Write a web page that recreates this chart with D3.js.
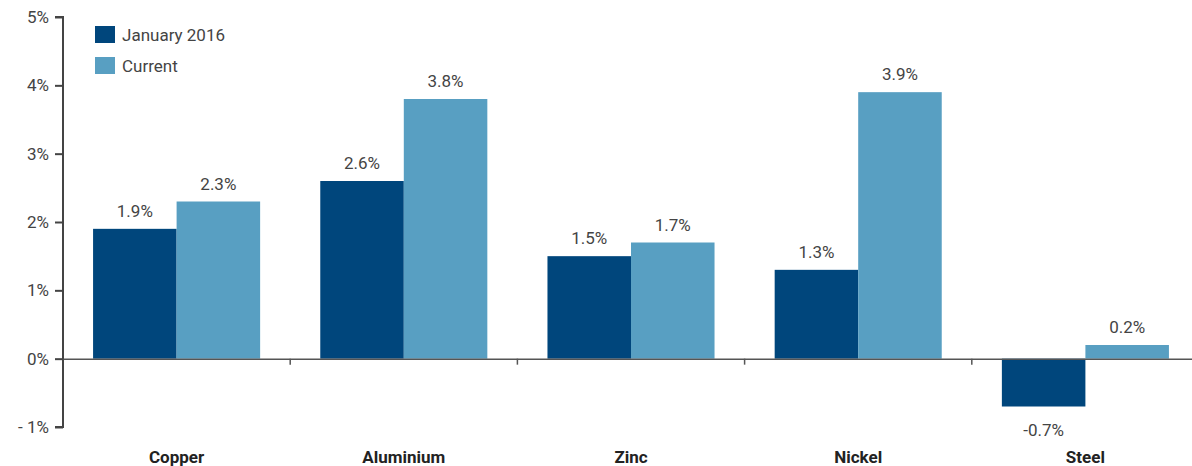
<!DOCTYPE html>
<html><head><meta charset="utf-8">
<script src="https://cdn.jsdelivr.net/npm/d3@7"></script>
<style>
body{margin:0;background:#fff;}
text{font-family:Roboto, "Liberation Sans", sans-serif;}
</style></head>
<body>
<svg id="chart" width="1192" height="466"></svg>
<script>
const categories = ["Copper","Aluminium","Zinc","Nickel","Steel"];
const seriesNames = ["January 2016","Current"];
const jan2016 = [1.9, 2.6, 1.5, 1.3, -0.7];
const current = [2.3, 3.8, 1.7, 3.9, 0.2];
const yTicks = [-1,0,1,2,3,4,5];
const colors = ["#00467c","#589fc2"];

const svg = d3.select("#chart");
const x0 = 63, xEnd = 1199;
const x = d3.scaleBand().domain(categories).range([x0, xEnd]).paddingInner(0).paddingOuter(0);
const inner = d3.scaleBand().domain(seriesNames).range([0, x.bandwidth()]).paddingOuter(0.36).paddingInner(0);
const y = d3.scaleLinear().domain([-1,5]).range([427, 17]);

// y axis
const yAxis = d3.axisLeft(y).tickValues(yTicks).tickSize(8).tickPadding(6)
  .tickFormat(d => d < 0 ? "- " + Math.abs(d) + "%" : d + "%");
const gy = svg.append("g").attr("transform", `translate(${x0},0)`).call(yAxis);
gy.select(".domain").attr("stroke","#444").attr("stroke-width",2).attr("d", `M-8,${y(5)}H0V${y(-1)}H-8`);
gy.selectAll(".tick line").attr("stroke","#444").attr("stroke-width",2);
gy.selectAll(".tick text").attr("fill","#444").style("font-size","17px");

// bars
const data = categories.map((c,i)=>({cat:c, vals:[jan2016[i], current[i]]}));
const groups = svg.append("g").selectAll("g").data(data).join("g")
  .attr("transform", d => `translate(${x(d.cat)},0)`);
groups.selectAll("rect").data(d => d.vals.map((v,j)=>({v, s:seriesNames[j], j})))
  .join("rect")
  .attr("x", d => inner(d.s))
  .attr("width", inner.bandwidth())
  .attr("y", d => y(Math.max(0,d.v)))
  .attr("height", d => Math.abs(y(d.v)-y(0)))
  .attr("fill", d => colors[d.j]);
groups.selectAll("text.val").data(d => d.vals.map((v,j)=>({v, s:seriesNames[j], j})))
  .join("text").attr("class","val")
  .attr("x", d => inner(d.s) + inner.bandwidth()/2)
  .attr("y", d => d.v >= 0 ? y(d.v) - 12 : y(d.v) + 29)
  .attr("text-anchor","middle")
  .attr("fill","#444")
  .style("font-size","17px")
  .text(d => d.v.toFixed(1) + "%");

// zero baseline + category separators
const xAxis = d3.axisBottom(x).tickSize(0).tickFormat("");
const gx = svg.append("g").attr("transform", `translate(0,${y(0)})`).call(xAxis);
gx.select(".domain").attr("stroke","#555").attr("stroke-width",1.5);
svg.append("g").selectAll("line").data(categories.slice(1)).join("line")
  .attr("x1", d => x(d)).attr("x2", d => x(d))
  .attr("y1", y(0)).attr("y2", y(0)+6)
  .attr("stroke","#555").attr("stroke-width",1.5);

// category labels
svg.append("g").selectAll("text").data(categories).join("text")
  .attr("x", d => x(d) + x.bandwidth()/2)
  .attr("y", 463)
  .attr("text-anchor","middle")
  .attr("fill","#222")
  .style("font-size","17px").style("font-weight","bold")
  .text(d => d);

// legend
const leg = svg.append("g").attr("transform","translate(95,26)");
seriesNames.forEach((s,i) => {
  const g = leg.append("g").attr("transform", `translate(0,${i*31})`);
  g.append("rect").attr("width",20).attr("height",17).attr("fill",colors[i]);
  g.append("text").attr("x",27).attr("y",15).attr("fill","#444").style("font-size","17px").text(s);
});
</script>
</body></html>
